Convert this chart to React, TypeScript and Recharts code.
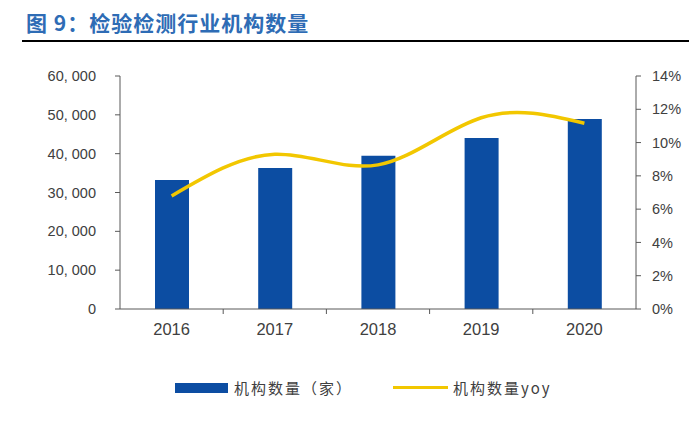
import React from "react";
import {
  ComposedChart,
  Bar,
  Line,
  XAxis,
  YAxis,
} from "recharts";

const years = ["2016", "2017", "2018", "2019", "2020"];
const agencies = [33235, 36327, 39472, 44007, 48919];
const yoy = [6.79, 9.30, 8.66, 11.49, 11.16];
const leftTicks = [0, 10000, 20000, 30000, 40000, 50000, 60000];
const rightTicks = [0, 2, 4, 6, 8, 10, 12, 14];

const data = years.map((y, i) => ({ year: y, count: agencies[i], yoy: yoy[i] }));

const BLUE = "#0C4DA2";
const YELLOW = "#F2C700";
const TEXT = "#404040";
const FONT = "'Liberation Sans', Arial, 'Noto Sans CJK SC', sans-serif";

const fmtThousands = (v: number) =>
  v === 0 ? "0" : v.toLocaleString("en-US").replace(",", ", ");

const YearTick = (props: any) => {
  const { x, y, payload, index } = props;
  const half = 51.6;
  return (
    <g>
      {index > 0 && (
        <line x1={x - half} x2={x - half} y1={y - 8} y2={y - 3} stroke="#595959" strokeWidth={1} />
      )}
      <text x={x} y={y + 18} textAnchor="middle" fill={TEXT} fontSize={16.5} fontFamily={FONT}>
        {payload.value}
      </text>
    </g>
  );
};

export default function App() {
  return (
    <div
      style={{
        position: "absolute",
        left: 0,
        top: 0,
        width: 689,
        height: 429,
        background: "#fff",
        fontFamily: FONT,
      }}
    >
      <div
        style={{
          position: "absolute",
          left: 26,
          top: 7,
          fontSize: 21,
          fontWeight: "bold",
          color: "#2E6CB5",
          fontFamily: "'Noto Sans CJK SC', sans-serif",
          whiteSpace: "nowrap",
          letterSpacing: 1,
        }}
      >
        图 9：检验检测行业机构数量
      </div>
      <div
        style={{
          position: "absolute",
          left: 22,
          top: 40,
          width: 667,
          height: 2,
          background: "#000",
        }}
      />
      <div style={{ position: "absolute", left: 0, top: 0 }}>
        <ComposedChart
          width={689}
          height={429}
          data={data}
          margin={{ top: 76, right: 0, left: 40, bottom: 90 }}
        >
          <XAxis
            dataKey="year"
            axisLine={{ stroke: "#595959" }}
            tickLine={false}
            tick={<YearTick />}
            height={30}
            interval={0}
          />
          <YAxis
            yAxisId="left"
            domain={[0, 60000]}
            ticks={leftTicks}
            width={80}
            axisLine={{ stroke: "#595959" }}
            tickLine={{ stroke: "#595959" }}
            tickSize={5}
            tickMargin={19}
            tickFormatter={fmtThousands}
            tick={{ fill: TEXT, fontSize: 14.5, fontFamily: FONT }}
          />
          <YAxis
            yAxisId="right"
            orientation="right"
            domain={[0, 14]}
            ticks={rightTicks}
            width={53}
            axisLine={{ stroke: "#595959" }}
            tickLine={{ stroke: "#595959" }}
            tickSize={5}
            tickMargin={11}
            tickFormatter={(v: number) => `${v}%`}
            tick={{ fill: TEXT, fontSize: 14.5, fontFamily: FONT, textAnchor: "start" }}
          />
          <Bar
            yAxisId="left"
            dataKey="count"
            fill={BLUE}
            barSize={34}
            isAnimationActive={false}
          />
          <Line
            yAxisId="right"
            dataKey="yoy"
            type="natural"
            stroke={YELLOW}
            strokeWidth={3.5}
            dot={false}
            activeDot={false}
            isAnimationActive={false}
          />
        </ComposedChart>
      </div>
      <div
        style={{
          position: "absolute",
          top: 377,
          left: 175,
          display: "flex",
          alignItems: "center",
          fontSize: 15,
          color: TEXT,
          fontFamily: "'Noto Sans CJK SC', sans-serif",
          whiteSpace: "nowrap",
        }}
      >
        <span style={{ display: "inline-block", width: 53, height: 10, background: BLUE, marginRight: 6 }} />
        <span style={{ letterSpacing: 2 }}>机构数量（家）</span>
        <span
          style={{
            display: "inline-block",
            width: 55,
            height: 3,
            background: YELLOW,
            marginLeft: 40,
            marginRight: 5,
          }}
        />
        <span style={{ letterSpacing: 2 }}>机构数量yoy</span>
      </div>
    </div>
  );
}
